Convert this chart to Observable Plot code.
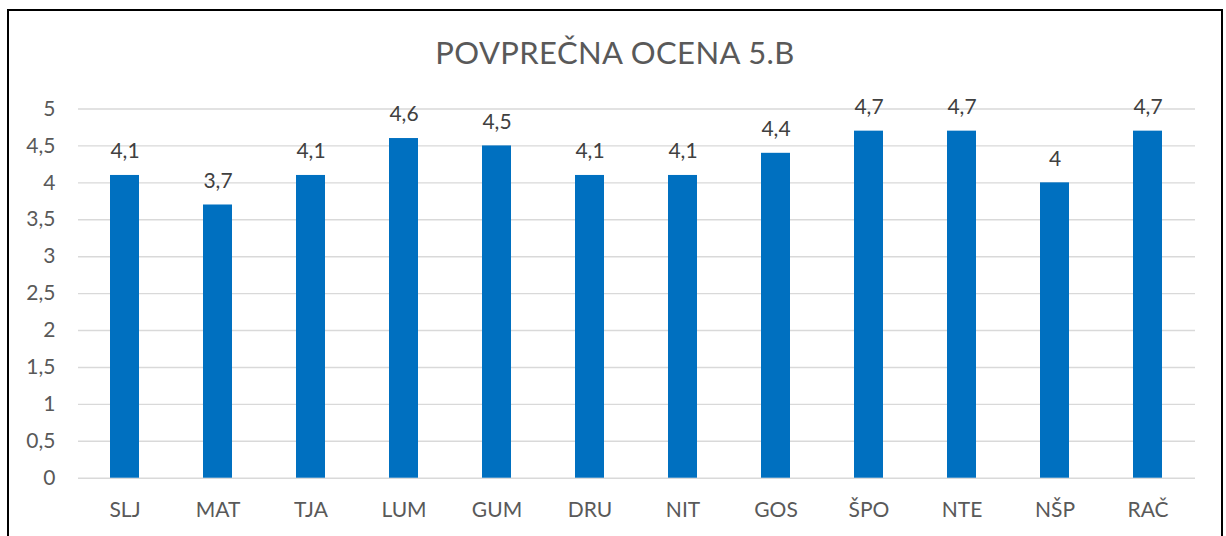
<!DOCTYPE html>
<html>
<head>
<meta charset="utf-8">
<script src="https://cdn.jsdelivr.net/npm/d3@7"></script>
<script src="https://cdn.jsdelivr.net/npm/@observablehq/plot@0.6"></script>
<style>
  html, body { margin: 0; padding: 0; background: #fff; width: 1226px; height: 536px; overflow: hidden; }
  #wrap { position: relative; width: 1226px; height: 536px; }
  #frame { position: absolute; left: 7px; top: 9px; width: 1212px; height: 600px;
           border: 2px solid #000; pointer-events: none; z-index: 2; }
  #title { height: 90px; box-sizing: border-box; padding-top: 37px; text-align: center;
           font-family: Lato, sans-serif; font-size: 31px; line-height: 31px; color: #595959;
           padding-left: 4px; letter-spacing: 0.4px; }
  svg { display: block; }
</style>
</head>
<body>
<div id="wrap">
  <div id="frame"></div>
  <div id="title">POVPREČNA OCENA 5.B</div>
  <div id="chart"></div>
</div>
<script>
const categories = ["SLJ", "MAT", "TJA", "LUM", "GUM", "DRU", "NIT", "GOS", "ŠPO", "NTE", "NŠP", "RAČ"];
const values = [4.1, 3.7, 4.1, 4.6, 4.5, 4.1, 4.1, 4.4, 4.7, 4.7, 4.0, 4.7];
const yTicks = [0, 0.5, 1, 1.5, 2, 2.5, 3, 3.5, 4, 4.5, 5];

const fmt = d => String(d).replace(".", ",");
const data = categories.map((c, i) => ({ subject: c, value: values[i] }));

const chart = Plot.plot({
  width: 1226,
  height: 446,
  marginLeft: 78,
  marginRight: 31,
  marginTop: 18.5,
  marginBottom: 58.3,
  style: { fontFamily: "Lato, sans-serif", fontSize: "21px", color: "#595959", background: "transparent" },
  x: { domain: categories, paddingInner: 0.688, paddingOuter: 0.344, label: null },
  y: { domain: [0, 5], label: null },
  marks: [
    Plot.ruleY(yTicks, { stroke: "#d9d9d9", strokeWidth: 1.4 }),
    Plot.axisY(yTicks, { tickSize: 0, tickPadding: 23, tickFormat: fmt, label: null, fill: "#595959" }),
    Plot.axisX({ tickSize: 0, tickPadding: 24, label: null, fill: "#595959" }),
    Plot.barY(data, { x: "subject", y: "value", fill: "#0070c0" }),
    Plot.text(data, { x: "subject", y: "value", text: d => fmt(d.value), dy: -24, fill: "#404040", fontSize: 21 })
  ]
});
document.getElementById("chart").appendChild(chart);
</script>
</body>
</html>
